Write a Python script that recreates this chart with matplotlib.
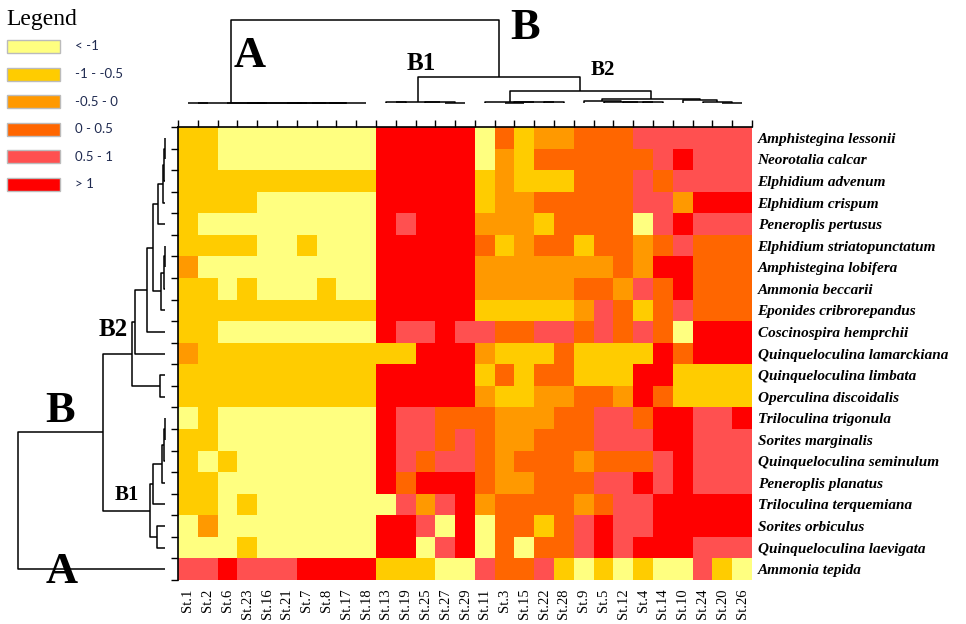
import matplotlib
matplotlib.use("Agg")
import matplotlib.pyplot as plt
import numpy as np
from matplotlib.colors import ListedColormap, BoundaryNorm
from matplotlib.patches import Rectangle

# Figure size in pixels (dpi 100)
W, H = 966, 624

stations = ["St.1", "St.2", "St.6", "St.23", "St.16", "St.21", "St.7", "St.8",
            "St.17", "St.18", "St.13", "St.19", "St.25", "St.27", "St.29",
            "St.11", "St.3", "St.15", "St.22", "St.28", "St.9", "St.5",
            "St.12", "St.4", "St.14", "St.10", "St.24", "St.20", "St.26"]

species = ["Amphistegina lessonii", "Neorotalia calcar", "Elphidium advenum",
           "Elphidium crispum", "Peneroplis pertusus",
           "Elphidium striatopunctatum", "Amphistegina lobifera",
           "Ammonia beccarii", "Eponides cribrorepandus",
           "Coscinospira hemprchii", "Quinqueloculina lamarckiana",
           "Quinqueloculina limbata", "Operculina discoidalis",
           "Triloculina trigonula", "Sorites marginalis",
           "Quinqueloculina seminulum", "Peneroplis planatus",
           "Triloculina terquemiana", "Sorites orbiculus",
           "Quinqueloculina laevigata", "Ammonia tepida"]

bin_labels = ["< -1", "-1 - -0.5", "-0.5 - 0", "0 - 0.5", "0.5 - 1", "> 1"]
bin_colors = ["#FFFF80", "#FFCC00", "#FF9900", "#FF6600", "#FF5050", "#FF0000"]

# class of each cell (1 = "< -1" ... 6 = "> 1"), rows = species, cols = stations
classes = np.array([
    [2, 2, 1, 1, 1, 1, 1, 1, 1, 1, 6, 6, 6, 6, 6, 1, 4, 2, 3, 3, 4, 4, 4, 5, 5, 5, 5, 5, 5],
    [2, 2, 1, 1, 1, 1, 1, 1, 1, 1, 6, 6, 6, 6, 6, 1, 3, 2, 4, 4, 4, 4, 4, 4, 5, 6, 5, 5, 5],
    [2, 2, 2, 2, 2, 2, 2, 2, 2, 2, 6, 6, 6, 6, 6, 2, 3, 2, 2, 2, 4, 4, 4, 5, 4, 5, 5, 5, 5],
    [2, 2, 2, 2, 1, 1, 1, 1, 1, 1, 6, 6, 6, 6, 6, 2, 3, 3, 4, 4, 4, 4, 4, 5, 5, 3, 6, 6, 6],
    [2, 1, 1, 1, 1, 1, 1, 1, 1, 1, 6, 5, 6, 6, 6, 3, 3, 3, 2, 4, 4, 4, 4, 1, 5, 6, 5, 5, 5],
    [2, 2, 2, 2, 1, 1, 2, 1, 1, 1, 6, 6, 6, 6, 6, 4, 2, 3, 4, 4, 2, 4, 4, 3, 4, 5, 4, 4, 4],
    [3, 1, 1, 1, 1, 1, 1, 1, 1, 1, 6, 6, 6, 6, 6, 3, 3, 3, 3, 3, 3, 3, 4, 3, 6, 6, 4, 4, 4],
    [2, 2, 1, 2, 1, 1, 1, 2, 1, 1, 6, 6, 6, 6, 6, 3, 3, 3, 3, 3, 4, 4, 3, 5, 4, 6, 4, 4, 4],
    [2, 2, 2, 2, 2, 2, 2, 2, 2, 2, 6, 6, 6, 6, 6, 2, 2, 2, 2, 2, 3, 5, 4, 2, 4, 5, 4, 4, 4],
    [2, 2, 1, 1, 1, 1, 1, 1, 1, 1, 6, 5, 5, 6, 5, 5, 4, 4, 5, 5, 4, 5, 4, 5, 4, 1, 6, 6, 6],
    [3, 2, 2, 2, 2, 2, 2, 2, 2, 2, 2, 2, 6, 6, 6, 3, 2, 2, 2, 4, 2, 2, 2, 2, 6, 4, 6, 6, 6],
    [2, 2, 2, 2, 2, 2, 2, 2, 2, 2, 6, 6, 6, 6, 6, 2, 4, 2, 4, 4, 2, 2, 2, 6, 6, 2, 2, 2, 2],
    [2, 2, 2, 2, 2, 2, 2, 2, 2, 2, 6, 6, 6, 6, 6, 3, 2, 2, 3, 3, 4, 4, 3, 6, 4, 2, 2, 2, 2],
    [1, 2, 1, 1, 1, 1, 1, 1, 1, 1, 6, 5, 5, 4, 4, 4, 3, 3, 3, 4, 4, 5, 5, 4, 6, 6, 5, 5, 6],
    [2, 2, 1, 1, 1, 1, 1, 1, 1, 1, 6, 5, 5, 4, 5, 4, 3, 3, 4, 4, 4, 5, 5, 5, 6, 6, 5, 5, 5],
    [2, 1, 2, 1, 1, 1, 1, 1, 1, 1, 6, 5, 4, 5, 5, 4, 3, 4, 4, 4, 3, 4, 4, 4, 5, 6, 5, 5, 5],
    [2, 2, 1, 1, 1, 1, 1, 1, 1, 1, 6, 4, 6, 6, 6, 4, 3, 3, 4, 4, 4, 5, 5, 6, 5, 6, 5, 5, 5],
    [2, 2, 1, 2, 1, 1, 1, 1, 1, 1, 1, 5, 3, 5, 6, 3, 4, 4, 4, 4, 3, 4, 5, 5, 6, 6, 6, 6, 6],
    [1, 3, 1, 1, 1, 1, 1, 1, 1, 1, 6, 6, 5, 1, 6, 1, 4, 4, 2, 4, 5, 6, 5, 5, 6, 6, 6, 6, 6],
    [1, 1, 1, 2, 1, 1, 1, 1, 1, 1, 6, 6, 1, 5, 6, 1, 4, 1, 4, 4, 5, 6, 5, 6, 6, 6, 5, 5, 5],
    [5, 5, 6, 5, 5, 5, 6, 6, 6, 6, 2, 2, 2, 1, 1, 5, 4, 4, 5, 2, 1, 2, 1, 2, 1, 1, 5, 2, 1],
])

# Station clustering: (child a, child b, distance); new nodes numbered from 29
station_links = [
    (0, 1, 0), (5, 6, 0), (30, 7, 0), (31, 8, 0), (32, 9, 0), (3, 4, 0),
    (34, 33, 0), (2, 35, 0), (29, 36, 0),
    (10, 11, 0.8), (13, 14, 0.5), (12, 39, 0.8), (38, 40, 1.2),
    (16, 17, 0.5), (18, 19, 0.8), (42, 43, 1.2), (15, 44, 1.5),
    (23, 24, 0.6), (22, 46, 1.0), (21, 47, 1.5), (20, 48, 2.5),
    (27, 28, 0.5), (26, 50, 1.0), (25, 51, 3.5),
    (49, 52, 4.2), (45, 53, 12.0), (41, 54, 26.5), (37, 55, 83.0),
]

# Species clustering: new nodes numbered from 21
species_links = [
    (0, 1, 0.5), (21, 2, 1.0), (22, 3, 2.0), (23, 4, 7.0),
    (5, 6, 0.5), (25, 7, 1.0), (26, 8, 4.3), (24, 27, 12.0),
    (28, 9, 18.3), (29, 10, 30.0), (11, 12, 5.0), (30, 31, 33.3),
    (13, 14, 0.5), (33, 15, 1.0), (34, 16, 3.3), (35, 17, 11.7),
    (18, 19, 8.3), (36, 37, 15.0), (32, 38, 62.3), (39, 20, 146.7),
]


def px_box(x0, y0, x1, y1):
    """Axes rectangle from pixel corners (origin top-left)."""
    return [x0 / W, 1 - y1 / H, (x1 - x0) / W, (y1 - y0) / H]


def draw_dendrogram(ax, links, n, orient):
    pos = {i: i + 0.5 for i in range(n)}
    hgt = {i: 0.0 for i in range(n)}
    for k, (a, b, h) in enumerate(links):
        p = [pos[a], pos[a], pos[b], pos[b]]
        q = [hgt[a], h, h, hgt[b]]
        if orient == "top":
            ax.plot(p, q, color="black", lw=1.1, clip_on=False, solid_capstyle="butt")
        else:
            ax.plot(q, p, color="black", lw=1.1, clip_on=False, solid_capstyle="butt")
        pos[n + k] = (pos[a] + pos[b]) / 2
        hgt[n + k] = h


serif = "Liberation Serif"
nrow, ncol = classes.shape

fig = plt.figure(figsize=(W / 100, H / 100), dpi=100)
fig.patch.set_facecolor("white")

# Heatmap
ax = fig.add_axes(px_box(178, 127, 752, 580))
cmap = ListedColormap(bin_colors)
norm = BoundaryNorm(np.arange(0.5, 7.5, 1), cmap.N)
ax.pcolormesh(np.arange(ncol + 1), np.arange(nrow + 1), classes, cmap=cmap, norm=norm)
ax.set_xlim(0, ncol)
ax.set_ylim(nrow, 0)

ax.set_xticks(np.arange(ncol) + 0.5)
ax.set_xticklabels(stations, rotation=90, fontfamily=serif, fontsize=10.5)
ax.set_xticks(np.arange(ncol + 1), minor=True)
ax.set_yticks(np.arange(nrow) + 0.5)
ax.set_yticklabels(species, fontfamily=serif, fontsize=11,
                   fontweight="bold", fontstyle="italic")
ax.set_yticks(np.arange(nrow + 1), minor=True)
ax.tick_params(which="major", length=0, bottom=True, top=False, left=False, right=False,
               labelbottom=True, labelleft=False, labelright=True, pad=4)
ax.tick_params(axis="x", which="major", pad=6)
ax.tick_params(which="minor", length=5, width=1, top=True, bottom=False,
               left=True, right=False, color="black")
for side in ["right", "bottom"]:
    ax.spines[side].set_visible(False)
for side in ["left", "top"]:
    ax.spines[side].set_linewidth(1.2)

# Top dendrogram (stations)
axt = fig.add_axes(px_box(178, 0, 752, 103))
draw_dendrogram(axt, station_links, ncol, "top")
axt.set_xlim(0, ncol)
axt.set_ylim(0, 103)
axt.axis("off")

# Left dendrogram (species)
axl = fig.add_axes(px_box(0, 127, 165, 580))
draw_dendrogram(axl, species_links, nrow, "left")
axl.set_xlim(165, 0)
axl.set_ylim(nrow, 0)
axl.axis("off")

# Cluster labels
def fig_label(x, y, s, size):
    fig.text(x / W, 1 - y / H, s, fontfamily=serif, fontweight="bold",
             fontsize=size, ha="center", va="center")

fig_label(250, 56, "A", 32)
fig_label(525, 28, "B", 32)
fig_label(421, 63, "B1", 18)
fig_label(603, 70, "B2", 15)
fig_label(60, 411, "B", 32)
fig_label(62, 572, "A", 32)
fig_label(127, 495, "B1", 15)
fig_label(113, 330, "B2", 18)

# Legend
axg = fig.add_axes(px_box(0, 0, 170, 195))
axg.set_xlim(0, 170)
axg.set_ylim(195, 0)
axg.axis("off")
axg.text(6, 19, "Legend", fontfamily=serif, fontsize=17, va="center", ha="left")
for i, (lab, col) in enumerate(zip(bin_labels, bin_colors)):
    y0 = 40 + 27.6 * i
    axg.add_patch(Rectangle((7, y0), 53, 13, facecolor=col, edgecolor="#BBBBBB", lw=1))
    axg.text(75, y0 + 6.5, lab, fontfamily="Lato", fontsize=9.5,
             color="#1F2A50", va="center", ha="left")

fig.savefig("out.png", dpi=100, facecolor="white")
